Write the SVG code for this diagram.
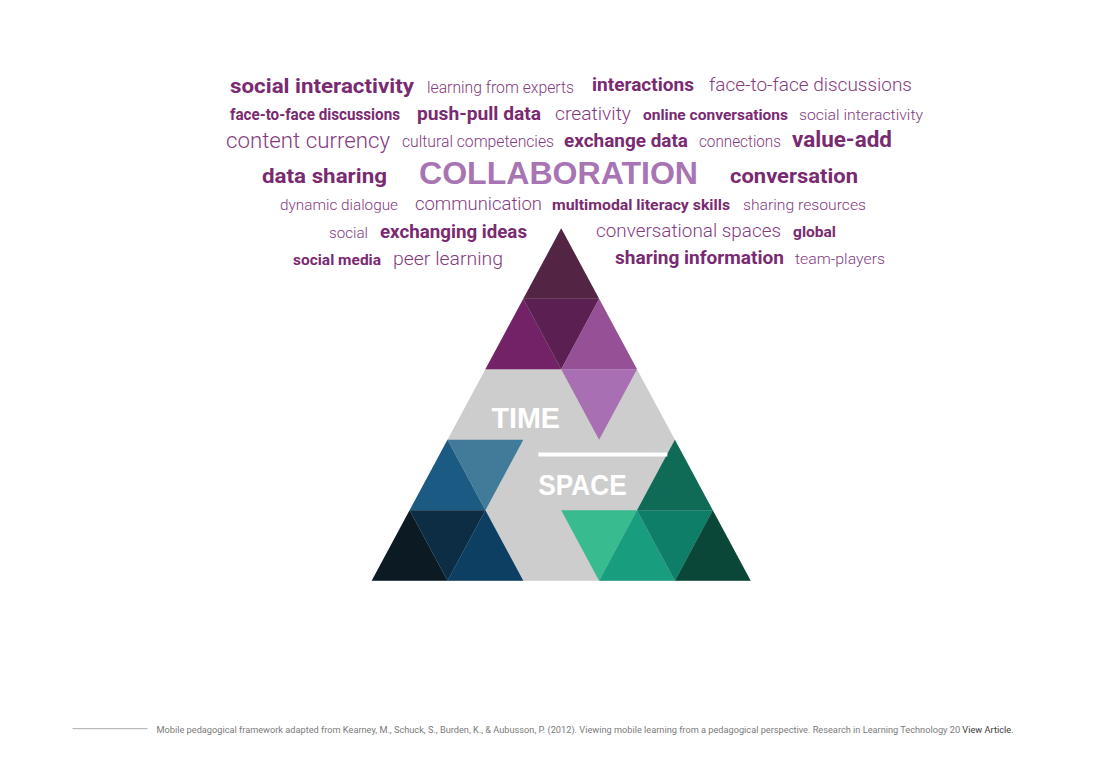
<svg xmlns="http://www.w3.org/2000/svg" width="1100" height="777" viewBox="0 0 1100 777">
<style>
  .b { font-family: Roboto, "Liberation Sans", sans-serif; font-weight: 700; fill: #7a2a70; }
  .r { font-family: Roboto, "Liberation Sans", sans-serif; font-weight: 300; fill: #853a7e; }
  .big { font-family: "Liberation Sans", Roboto, sans-serif; font-weight: 700; fill: #a874b4; }
  .lbl { font-family: "Liberation Sans", Roboto, sans-serif; font-weight: 700; fill: #ffffff; }
  .foot { font-family: Roboto, "Liberation Sans", sans-serif; font-size: 8.6px; fill: #7a7a7a; }
</style>
<rect width="1100" height="777" fill="#ffffff"/>

<g id="word-cloud">
  <text class="b" x="230" y="92.5" font-size="21" textLength="184" lengthAdjust="spacingAndGlyphs">social interactivity</text>
  <text class="r" x="427" y="92.5" font-size="16" textLength="147" lengthAdjust="spacingAndGlyphs">learning from experts</text>
  <text class="b" x="592" y="91" font-size="18.5" textLength="102" lengthAdjust="spacingAndGlyphs">interactions</text>
  <text class="r" x="709" y="91" font-size="19" textLength="203" lengthAdjust="spacingAndGlyphs">face-to-face discussions</text>

  <text class="b" x="230" y="120" font-size="16" textLength="170" lengthAdjust="spacingAndGlyphs">face-to-face discussions</text>
  <text class="b" x="417" y="120" font-size="19" textLength="124" lengthAdjust="spacingAndGlyphs">push-pull data</text>
  <text class="r" x="555" y="120" font-size="19" textLength="76" lengthAdjust="spacingAndGlyphs">creativity</text>
  <text class="b" x="643" y="120" font-size="15.5" textLength="145" lengthAdjust="spacingAndGlyphs">online conversations</text>
  <text class="r" x="799" y="120" font-size="15.5" textLength="124" lengthAdjust="spacingAndGlyphs">social interactivity</text>

  <text class="r" x="226" y="147.5" font-size="22" textLength="164" lengthAdjust="spacingAndGlyphs">content currency</text>
  <text class="r" x="402" y="147" font-size="16" textLength="152" lengthAdjust="spacingAndGlyphs">cultural competencies</text>
  <text class="b" x="564" y="146.7" font-size="18.5" textLength="124" lengthAdjust="spacingAndGlyphs">exchange data</text>
  <text class="r" x="699" y="146.7" font-size="16" textLength="82" lengthAdjust="spacingAndGlyphs">connections</text>
  <text class="b" x="792" y="146.7" font-size="22" textLength="100" lengthAdjust="spacingAndGlyphs">value-add</text>

  <text class="b" x="262" y="182.5" font-size="21" textLength="125" lengthAdjust="spacingAndGlyphs">data sharing</text>
  <text class="big" x="419" y="183.5" font-size="31" textLength="279" lengthAdjust="spacingAndGlyphs">COLLABORATION</text>
  <text class="b" x="730" y="182.5" font-size="21" textLength="128" lengthAdjust="spacingAndGlyphs">conversation</text>

  <text class="r" x="280" y="210" font-size="15.5" textLength="118" lengthAdjust="spacingAndGlyphs">dynamic dialogue</text>
  <text class="r" x="415" y="210" font-size="19" textLength="127" lengthAdjust="spacingAndGlyphs">communication</text>
  <text class="b" x="552" y="210" font-size="15" textLength="178" lengthAdjust="spacingAndGlyphs">multimodal literacy skills</text>
  <text class="r" x="743" y="210" font-size="15.5" textLength="123" lengthAdjust="spacingAndGlyphs">sharing resources</text>

  <text class="r" x="329" y="237.7" font-size="15.5" textLength="39" lengthAdjust="spacingAndGlyphs">social</text>
  <text class="b" x="380" y="237.7" font-size="19" textLength="147" lengthAdjust="spacingAndGlyphs">exchanging ideas</text>
  <text class="r" x="596" y="236.7" font-size="18.5" textLength="185" lengthAdjust="spacingAndGlyphs">conversational spaces</text>
  <text class="b" x="793" y="236.7" font-size="15" textLength="43" lengthAdjust="spacingAndGlyphs">global</text>

  <text class="b" x="293" y="265" font-size="15" textLength="88" lengthAdjust="spacingAndGlyphs">social media</text>
  <text class="r" x="393" y="265" font-size="19" textLength="110" lengthAdjust="spacingAndGlyphs">peer learning</text>
  <text class="b" x="615" y="264.3" font-size="18.5" textLength="169" lengthAdjust="spacingAndGlyphs">sharing information</text>
  <text class="r" x="795" y="264.3" font-size="15.5" textLength="90" lengthAdjust="spacingAndGlyphs">team-players</text>
</g>

<g id="triangle">
  <polygon points="561.2,228.3 371.7,580.8 750.7,580.8" fill="#cccdcc"/>
  <polygon points="561.2,228.3 523.3,298.8 599.1,298.8" fill="#532444"/>
  <polygon points="523.3,298.8 485.4,369.3 561.2,369.3" fill="#742268"/>
  <polygon points="523.3,298.8 599.1,298.8 561.2,369.3" fill="#5c1f51"/>
  <polygon points="599.1,298.8 561.2,369.3 637,369.3" fill="#965196"/>
  <polygon points="561.2,369.3 637,369.3 599.1,439.8" fill="#a870b2"/>
  <polygon points="447.5,439.8 409.6,510.3 485.4,510.3" fill="#1b5a82"/>
  <polygon points="447.5,439.8 523.3,439.8 485.4,510.3" fill="#427a99"/>
  <polygon points="409.6,510.3 371.7,580.8 447.5,580.8" fill="#0c1a24"/>
  <polygon points="409.6,510.3 485.4,510.3 447.5,580.8" fill="#0c2d43"/>
  <polygon points="485.4,510.3 447.5,580.8 523.3,580.8" fill="#0c3f62"/>
  <polygon points="674.9,439.8 637,510.3 712.8,510.3" fill="#106b56"/>
  <polygon points="561.2,510.3 637,510.3 599.1,580.8" fill="#37bb8f"/>
  <polygon points="637,510.3 599.1,580.8 674.9,580.8" fill="#189d7e"/>
  <polygon points="637,510.3 712.8,510.3 674.9,580.8" fill="#0f7e68"/>
  <polygon points="712.8,510.3 674.9,580.8 750.7,580.8" fill="#0b4738"/>
</g>

<g id="time-space">
  <text class="lbl" x="491.5" y="428" font-size="30" textLength="68.5" lengthAdjust="spacingAndGlyphs">TIME</text>
  <rect x="538.3" y="452.5" width="129" height="4" fill="#ffffff"/>
  <text class="lbl" x="538.3" y="495" font-size="30" textLength="88.5" lengthAdjust="spacingAndGlyphs">SPACE</text>
</g>

<g id="footer">
  <line x1="72.5" y1="728.7" x2="147.5" y2="728.7" stroke="#aaaaaa" stroke-width="1"/>
  <text class="foot" x="156.5" y="732.5" textLength="857" lengthAdjust="spacingAndGlyphs">Mobile pedagogical framework adapted from Kearney, M., Schuck, S., Burden, K., &amp; Aubusson, P. (2012). Viewing mobile learning from a pedagogical perspective. Research in Learning Technology 20 <tspan fill="#3a3a3a">View Article.</tspan></text>
</g>
</svg>
